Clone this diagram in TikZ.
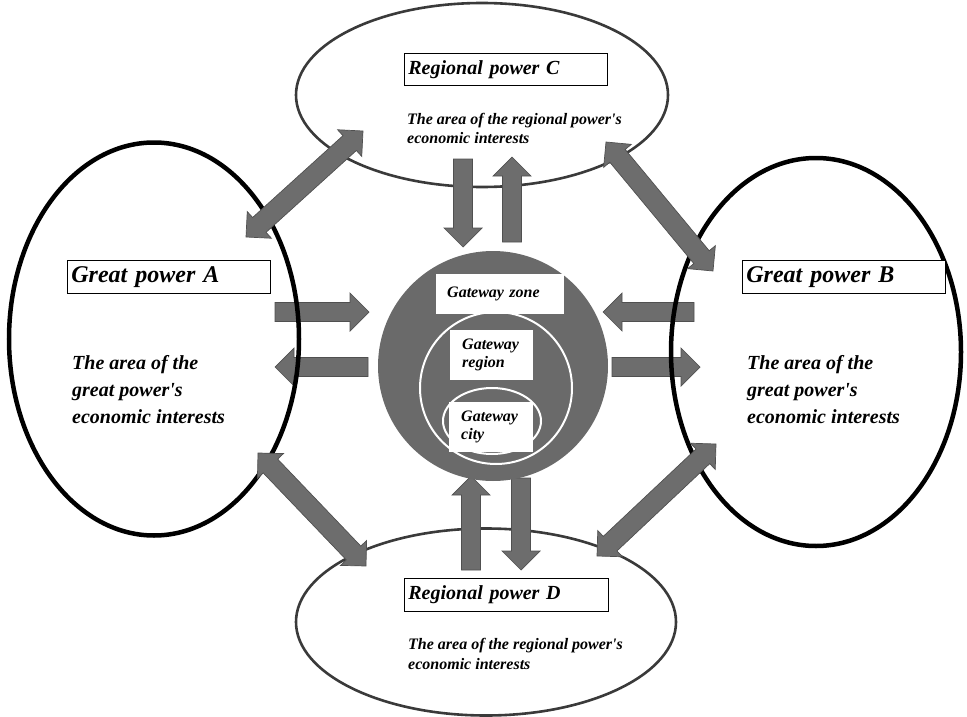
\documentclass[tikz,border=0pt]{standalone}
\usepackage{fontspec}
\setmainfont{Liberation Serif}[Ligatures=TeXOff]
\usepackage{tikz}
\usepackage{xcolor}
\usetikzlibrary{shapes.geometric,calc}

\definecolor{arrowgray}{HTML}{6D6D6D}
\definecolor{arrowedge}{HTML}{505050}
\definecolor{hubgray}{HTML}{6A6A6A}
\definecolor{rimgray}{HTML}{3A3A3A}

\tikzset{
  power/.style={ellipse, draw=black, line width=4.5pt, inner sep=0pt},
  regional/.style={ellipse, draw=rimgray, line width=2.6pt, inner sep=0pt},
  namebox/.style={draw=black, line width=0.8pt, fill=white, anchor=north west,
    inner xsep=4pt, inner ysep=0pt, align=left},
  area/.style={anchor=north west, inner sep=0pt, align=left},
  gatebox/.style={fill=white, anchor=north west, inner ysep=0pt, align=left,
    font=\fontsize{16}{18}\selectfont\bfseries\itshape},
  arrowbody/.style={fill=arrowgray, draw=arrowedge, line width=0.7pt},
}

% one-headed block arrow from #1 to #2
\newcommand{\blockarrow}[2]{%
  \coordinate (neck) at ($(#2)!19pt!(#1)$);
  \draw[arrowbody] ($(#1)!9.5pt!90:(#2)$) -- ($(neck)!9.5pt!90:(#2)$) -- ($(neck)!19pt!90:(#2)$) -- (#2)
    -- ($(neck)!19pt!-90:(#2)$) -- ($(neck)!9.5pt!-90:(#2)$) -- ($(#1)!9.5pt!-90:(#2)$) -- cycle;
}
% two-headed block arrow between #1 and #2
\newcommand{\twinarrow}[2]{%
  \coordinate (neckA) at ($(#1)!18pt!(#2)$);
  \coordinate (neckB) at ($(#2)!18pt!(#1)$);
  \draw[arrowbody] (#1) -- ($(neckA)!18pt!90:(#2)$) -- ($(neckA)!10pt!90:(#2)$) -- ($(neckB)!10pt!-90:(#1)$)
    -- ($(neckB)!18pt!-90:(#1)$) -- (#2) -- ($(neckB)!18pt!90:(#1)$) -- ($(neckB)!10pt!90:(#1)$)
    -- ($(neckA)!10pt!-90:(#2)$) -- ($(neckA)!18pt!-90:(#2)$) -- cycle;
}

\begin{document}
\begin{tikzpicture}[x=1pt, y=-1pt]
  \useasboundingbox (0,0) rectangle (967,717);

  % regional powers
  \node[regional, minimum width=372pt, minimum height=184pt] (rpc) at (482,95) {};
  \node[regional, minimum width=380pt, minimum height=187pt] (rpd) at (486,622) {};

  % arrow ends
  \foreach \n/\x/\y in {ah1/275/312, ah2/369/312, ah3/368/367, ah4/275/367,
                        bh1/694/312, bh2/603/312, bh3/612/367, bh4/700/367,
                        cv1/463/159, cv2/463/247, cv3/512/242, cv4/512/157,
                        dv1/471/570, dv2/471/476, dv3/521/478, dv4/521/570,
                        ac1/246/237, ac2/363/131, cb1/606/142, cb2/713/271,
                        ad1/258/453, ad2/366/566, db1/597/556, db2/716/444}
    \coordinate (\n) at (\x,\y);

  \foreach \s/\t in {ah1/ah2, ah3/ah4, bh1/bh2, bh3/bh4} {\blockarrow{\s}{\t}}

  % great powers
  \node[power, minimum width=290pt, minimum height=393pt] (gpa) at (154,339) {};
  \node[power, minimum width=290pt, minimum height=388pt] (gpb) at (816,352) {};

  \foreach \s/\t in {cv1/cv2, cv3/cv4, dv1/dv2, dv3/dv4} {\blockarrow{\s}{\t}}
  \foreach \s/\t in {ac1/ac2, cb1/cb2, ad1/ad2, db1/db2} {\twinarrow{\s}{\t}}

  % gateway
  \node[circle, fill=hubgray, minimum size=230pt, inner sep=0pt] (hub) at (493,366) {};
  \node[circle, draw=white, line width=2pt, minimum size=152pt, inner sep=0pt] (ring) at (496,388) {};
  \node[ellipse, draw=white, line width=2pt, minimum width=98pt, minimum height=66pt, inner sep=0pt] (cityring) at (492,421) {};
  \node[gatebox, inner xsep=11pt, text width=106pt, minimum height=40pt] (zone) at (436,274) {Gateway zone};
  \node[gatebox, inner xsep=12pt, text width=59pt, minimum height=50pt] (region) at (450,330) {Gateway\\region};
  \node[gatebox, inner xsep=12pt, text width=60pt, minimum height=50pt] (city) at (449,402) {Gateway\\city};

  % names
  \node[namebox, text width=195pt, minimum height=33pt, font=\fontsize{24}{28}\selectfont\bfseries\itshape] (gpaname) at (67,260) {Great power A};
  \node[namebox, text width=195pt, minimum height=33pt, font=\fontsize{24}{28}\selectfont\bfseries\itshape] (gpbname) at (742,260) {Great power B};
  \node[namebox, text width=195pt, minimum height=32pt, font=\fontsize{20}{24}\selectfont\bfseries\itshape] (rpcname) at (404,53) {Regional power C};
  \node[namebox, text width=196pt, minimum height=33pt, font=\fontsize{20}{24}\selectfont\bfseries\itshape] (rpdname) at (404,578) {Regional power D};

  % areas
  \node[area, font=\fontsize{20}{27}\selectfont\bfseries\itshape] (gpaarea) at (72,355) {The area of the\\great power's\\economic interests};
  \node[area, font=\fontsize{20}{27}\selectfont\bfseries\itshape] (gpbarea) at (747,355) {The area of the\\great power's\\economic interests};
  \node[area, font=\fontsize{16}{19}\selectfont\bfseries\itshape] (rpcarea) at (407,113) {The area of the regional power's\\economic interests};
  \node[area, font=\fontsize{16}{20}\selectfont\bfseries\itshape] (rpdarea) at (408,638) {The area of the regional power's\\economic interests};
\end{tikzpicture}
\end{document}
